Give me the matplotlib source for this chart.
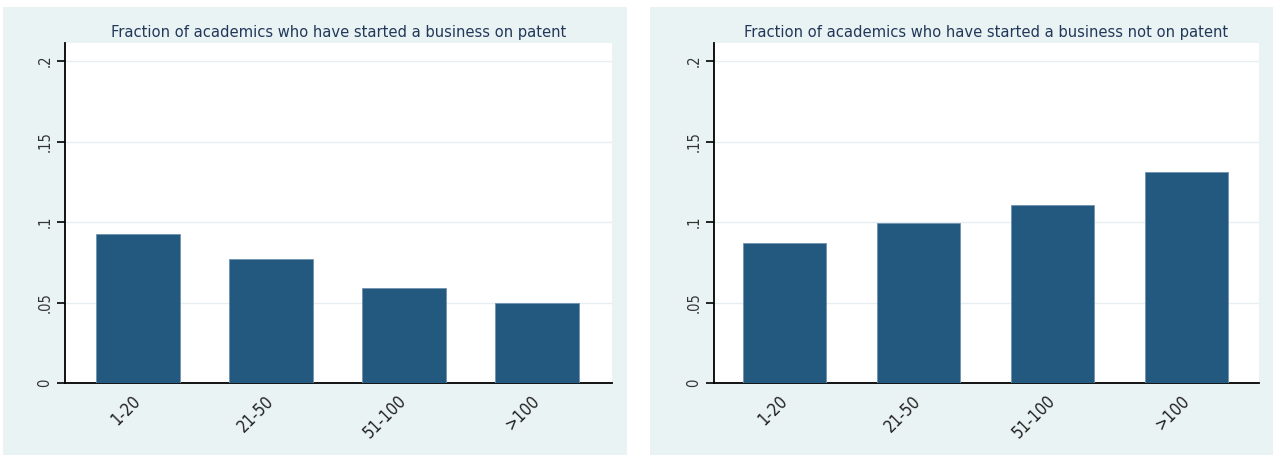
import matplotlib
matplotlib.use("Agg")
import matplotlib.pyplot as plt
from matplotlib.patches import Rectangle

# data
categories = ["1-20", "21-50", "51-100", ">100"]
on_patent = [0.0925, 0.077, 0.059, 0.050]
not_on_patent = [0.087, 0.0995, 0.1105, 0.131]
titles = ["Fraction of academics who have started a business on patent",
          "Fraction of academics who have started a business not on patent"]
yticks = [0, 0.05, 0.1, 0.15, 0.2]
ytick_labels = ["0", ".05", ".1", ".15", ".2"]

bar_color = "#23587f"
panel_bg = "#eaf3f3"
title_color = "#22385a"

plt.rcParams['font.family'] = ['DejaVu Sans']
plt.rcParams['font.stretch'] = 'condensed'

fig = plt.figure(figsize=(12.79, 4.58), dpi=100)
W, H = 1279, 458

# grey-blue panels behind each graph
for x0, x1 in [(3, 627), (650, 1273)]:
    fig.add_artist(Rectangle((x0 / W, 1 - 455 / H), (x1 - x0) / W, (455 - 7) / H,
                             transform=fig.transFigure, facecolor=panel_bg,
                             edgecolor="none", zorder=0))

# axes pixel extents and x limits
axes_px = [(65, 612, (-0.549, 3.564), 0.632), (714, 1259, (-0.526, 3.541), 0.62)]
series = [on_patent, not_on_patent]

for (x0, x1, xl, bw), vals, title in zip(axes_px, series, titles):
    ax = fig.add_axes([x0 / W, 1 - 383 / H, (x1 - x0) / W, (383 - 43) / H])
    ax.set_facecolor("white")
    ax.bar(range(len(categories)), vals, width=bw, color=bar_color,
           edgecolor="#6f93b0", linewidth=0.6, zorder=3)
    ax.set_xlim(*xl)
    ax.set_ylim(0, 0.2112)
    ax.set_yticks(yticks)
    ax.set_yticklabels(ytick_labels, rotation=90, va="center", fontsize=10.5, color="#333333")
    ax.set_xticks(range(len(categories)))
    ax.set_xticklabels(categories, rotation=45, ha="right", va="center",
                       rotation_mode="anchor", fontsize=12, color="#222222")
    ax.tick_params(axis="x", length=0, pad=11)
    ax.tick_params(axis="y", length=6, width=1.2, pad=3)
    for y in yticks[1:]:
        ax.axhline(y, color="#e6eef0", linewidth=1, zorder=1)
    for s in ["top", "right"]:
        ax.spines[s].set_visible(False)
    ax.spines["left"].set_linewidth(1.3)
    ax.spines["bottom"].set_linewidth(1.3)
    ax.set_title(title, fontsize=11.8, color=title_color, pad=4)

fig.savefig("out.png", dpi=100)
